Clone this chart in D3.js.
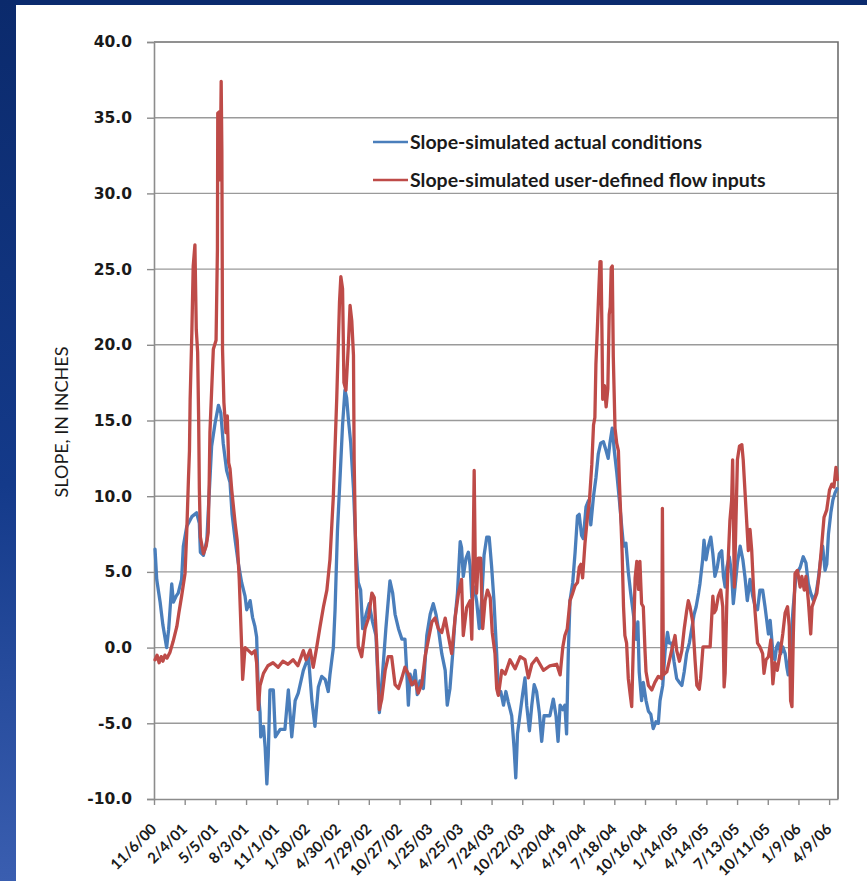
<!DOCTYPE html>
<html>
<head>
<meta charset="utf-8">
<script src="https://cdn.jsdelivr.net/npm/d3@7"></script>
<style>
  html, body { margin: 0; padding: 0; background: #0b2b6e; }
  svg { display: block; }
</style>
</head>
<body>
<svg id="chart" width="867" height="881"></svg>
<script>
// Dates are Excel serial day numbers (1 = 1/1/1900); slope values in inches.
const blueSerial = [
  36839,36844,36854,36862,36873,36879,36883,36888,36893,36901,36907,36917,36922,36932,36947,36961,36969,36972,36981,36991,
  36995,37005,37015,37025,37032,37039,37049,37059,37065,37074,37083,37093,37103,37108,37118,37125,37132,37137,37142,37147,
  37149,37157,37162,37167,37171,37176,37186,37192,37206,37220,37230,37240,37250,37259,37274,37289,37299,37308,37318,37328,
  37338,37347,37352,37362,37367,37374,37382,37389,37396,37401,37406,37413,37421,37428,37435,37442,37448,37458,37467,37477,
  37487,37497,37507,37516,37523,37528,37536,37543,37553,37563,37572,37577,37582,37587,37595,37602,37608,37616,37626,37636,
  37646,37655,37663,37670,37680,37690,37696,37704,37712,37719,37726,37734,37738,37743,37751,37758,37763,37768,37775,37782,
  37790,37797,37804,37812,37819,37826,37833,37841,37846,37853,37861,37868,37875,37885,37892,37897,37902,37910,37917,37924,
  37929,37937,37944,37951,37958,37966,37973,37980,37988,37997,38007,38015,38021,38027,38035,38041,38046,38051,38056,38064,
  38071,38078,38083,38090,38095,38103,38110,38117,38125,38132,38139,38146,38154,38162,38168,38173,38180,38186,38193,38201,
  38208,38213,38220,38227,38234,38242,38250,38255,38259,38266,38271,38279,38286,38293,38300,38308,38315,38320,38328,38335,
  38342,38347,38354,38361,38369,38377,38384,38391,38398,38406,38413,38420,38426,38433,38437,38445,38449,38455,38462,38469,
  38475,38481,38488,38494,38501,38506,38511,38516,38523,38530,38535,38540,38547,38555,38563,38569,38576,38584,38592,38599,
  38606,38613,38621,38628,38633,38638,38643,38648,38652,38657,38662,38667,38674,38680,38687,38692,38696,38701,38710,38719,
  38731,38740,38748,38755,38762,38770,38778,38784,38791,38797,38804,38809,38814,38821,38827,38833,38839
];
const blueSlope = [
  6.5,4.5,3.0,1.5,0.0,1.2,2.5,4.2,3.0,3.4,3.6,4.5,6.7,8.0,8.65,8.9,8.2,6.3,6.1,7.1,
  8.9,13.3,14.8,16.0,15.5,13.5,11.7,10.9,8.8,7.1,5.6,4.3,3.4,2.5,3.1,2.0,1.4,0.7,-3.0,-4.3,
  -5.9,-5.2,-6.6,-9.0,-7.2,-2.8,-2.8,-5.9,-5.4,-5.4,-2.8,-5.9,-3.5,-3.0,-1.5,-0.6,-3.5,-5.2,-2.6,-1.9,
  -2.1,-2.9,-1.8,0.0,2.5,7.7,11.4,14.7,17.0,16.5,15.1,13.5,10.5,6.6,4.3,3.8,1.25,2.2,2.9,1.7,
  0.8,-4.3,-1.5,1.25,3.1,4.4,3.6,2.2,1.25,0.56,0.56,-1.5,-3.8,-1.75,-2.45,-1.5,-3.1,-2.2,-2.7,0.8,
  2.2,2.9,2.2,1.25,-0.4,-1.5,-3.8,-2.7,-0.4,1.95,3.6,7.0,6.6,4.7,5.9,6.3,5.4,3.3,4.0,3.1,
  1.25,3.1,6.1,7.3,7.3,5.4,3.1,-0.4,-3.1,-2.9,-3.8,-2.9,-3.6,-4.5,-6.6,-8.6,-5.7,-4.3,-3.1,-2.0,
  -3.8,-5.5,-3.8,-2.45,-2.9,-4.3,-6.2,-4.5,-4.5,-4.5,-3.4,-4.5,-6.2,-3.8,-4.1,-3.8,-5.7,-0.4,3.1,4.3,
  6.3,8.7,8.8,7.4,7.2,9.3,9.7,8.1,10.0,11.2,12.8,13.5,13.6,13.0,12.5,13.5,14.5,13.0,11.6,9.7,
  7.9,6.7,6.9,5.0,3.6,2.2,0.55,1.7,-1.6,-3.5,-2.3,-3.5,-4.2,-4.4,-5.35,-4.9,-5.0,-3.5,-2.5,-0.2,
  1.0,0.3,0.3,-0.9,-2.05,-2.3,-2.5,-1.6,-0.4,0.3,1.25,2.2,2.7,3.6,4.2,5.8,7.1,5.8,6.7,7.3,
  6.2,4.7,5.3,6.2,6.4,4.7,4.0,5.3,6.0,4.9,2.9,4.0,5.6,6.7,5.8,4.7,3.1,4.5,3.4,2.7,
  2.5,3.8,3.8,2.7,1.8,0.9,1.8,0.5,-0.6,-0.8,0.05,0.3,-0.4,0.05,-0.4,-1.3,-1.8,-0.5,2.5,4.8,
  5.3,6.0,5.6,4.2,3.6,3.1,3.6,4.5,5.8,6.7,5.1,5.5,7.5,8.9,9.75,10.2,10.5
];

const redSerial = [
  36839,36845,36851,36857,36862,36868,36874,36883,36892,36903,36909,36917,36927,36932,36937,36940,36942,36947,36951,36956,
  36960,36964,36967,36969,36972,36981,36989,36995,36998,37000,37010,37018,37022,37023,37028,37030,37033,37035,37037,37041,
  37047,37051,37055,37059,37064,37074,37080,37086,37093,37096,37103,37113,37123,37132,37137,37142,37147,37157,37170,37185,
  37200,37214,37229,37244,37258,37274,37282,37294,37303,37313,37323,37333,37343,37352,37362,37372,37380,37384,37389,37393,
  37399,37406,37411,37416,37421,37423,37428,37435,37445,37455,37465,37475,37482,37489,37497,37504,37514,37523,37533,37543,
  37553,37563,37572,37582,37592,37602,37611,37621,37631,37641,37651,37660,37670,37680,37690,37699,37709,37719,37729,37738,
  37743,37753,37763,37768,37771,37775,37778,37782,37787,37794,37800,37807,37814,37822,37828,37836,37841,37846,37856,37866,
  37880,37895,37910,37924,37934,37944,37958,37978,37997,38017,38027,38035,38041,38048,38056,38064,38071,38078,38083,38088,
  38093,38100,38107,38113,38120,38125,38129,38132,38137,38141,38144,38147,38150,38152,38157,38162,38167,38171,38174,38177,
  38180,38183,38188,38193,38198,38201,38205,38209,38213,38217,38222,38227,38232,38237,38242,38247,38252,38257,38261,38266,
  38271,38276,38279,38286,38296,38305,38315,38325,38327,38330,38340,38350,38359,38364,38369,38377,38384,38391,38398,38403,
  38408,38416,38423,38428,38435,38439,38446,38467,38475,38479,38484,38491,38498,38504,38508,38511,38516,38520,38525,38530,
  38533,38538,38543,38547,38553,38560,38564,38569,38574,38579,38584,38589,38594,38599,38606,38613,38621,38625,38631,38638,
  38645,38651,38657,38664,38672,38680,38687,38694,38699,38703,38707,38711,38716,38723,38731,38736,38743,38748,38755,38762,
  38766,38772,38780,38787,38794,38801,38809,38817,38824,38830,38836,38840
];
const redSlope = [
  -0.8,-0.5,-1.0,-0.6,-0.9,-0.5,-0.7,-0.3,0.4,1.4,2.3,3.4,4.9,7.6,11.1,13.0,16.4,20.8,25.2,26.6,
  21.0,19.5,15.0,10.5,7.3,6.2,6.7,7.6,11.1,14.2,19.7,20.3,26.3,35.3,35.4,30.9,37.4,32.9,19.7,16.2,
  14.2,15.3,12.2,11.8,10.4,8.2,7.1,4.5,0.1,-2.1,0.0,-0.2,-0.4,-0.2,-1.0,-4.1,-2.5,-1.7,-1.2,-1.0,
  -1.3,-0.9,-1.1,-0.8,-1.2,-0.2,-0.8,-0.15,-1.3,0.0,1.4,2.7,3.8,5.8,10.0,16.5,22.8,24.5,23.7,17.5,
  17.0,20.0,22.6,21.6,19.3,12.4,5.4,0.1,-0.6,1.25,1.95,3.6,3.3,0.33,-4.1,-3.4,-1.5,-0.6,-0.6,-2.45,
  -2.7,-2.0,-1.3,-1.75,-2.45,-2.2,-3.0,-2.45,-0.6,0.56,1.7,1.95,1.25,1.0,1.95,0.8,-0.4,1.95,3.6,4.5,
  0.8,2.65,3.1,0.56,4.3,11.7,5.9,3.6,5.9,5.9,1.25,3.1,3.8,3.3,1.0,-0.4,-2.7,-3.15,-1.5,-1.75,
  -0.8,-1.4,-0.6,-0.8,-2.0,-1.1,-0.7,-1.5,-1.2,-1.1,-1.8,0.05,0.8,1.25,3.1,3.6,4.1,4.3,5.3,5.5,
  4.6,6.9,8.6,9.7,12.1,14.7,15.2,18.7,21.5,23.9,25.5,25.5,20.4,16.4,17.3,15.9,17.1,22.0,22.5,25.1,
  25.2,19.2,14.5,13.5,13.0,10.9,8.6,6.2,2.7,0.8,0.3,-2.05,-3.0,-3.9,0.3,4.6,5.7,3.85,5.7,2.9,
  2.7,-0.2,-1.6,-2.5,-2.8,-2.3,-1.9,-2.05,9.2,-1.8,-1.6,-0.6,0.3,0.8,-0.2,-0.9,-0.2,1.25,2.4,3.1,
  2.7,1.7,-0.9,-2.5,-2.75,-2.05,0.05,0.05,3.4,2.3,2.5,3.4,3.8,2.7,-2.6,-1.7,3.1,5.8,8.4,9.7,
  12.4,4.0,8.6,12.4,13.3,13.4,12.4,10.4,8.4,6.4,7.8,6.4,4.0,2.3,0.3,0.05,-0.4,-1.7,-0.8,-0.6,
  0.5,-2.4,-1.0,-1.5,-0.4,0.9,2.3,2.7,1.4,-3.5,-3.9,0.9,4.9,5.1,4.0,4.7,3.8,4.7,3.1,0.9,
  2.7,3.1,3.6,4.9,6.7,8.6,9.1,10.4,10.8,10.6,11.9,11.1
];

const seriesNames = [
  "Slope-simulated actual conditions",
  "Slope-simulated user-defined flow inputs"
];
const seriesColors = ["#4a7ebb", "#be4b48"];
const dateTickLabels = [
  "11/6/00","2/4/01","5/5/01","8/3/01","11/1/01","1/30/02","4/30/02","7/29/02",
  "10/27/02","1/25/03","4/25/03","7/24/03","10/22/03","1/20/04","4/19/04","7/18/04",
  "10/16/04","1/14/05","4/14/05","7/13/05","10/11/05","1/9/06","4/9/06"
];
const slopeTicks = [-10, -5, 0, 5, 10, 15, 20, 25, 30, 35, 40];
const axisTitle = "SLOPE, IN INCHES";
const axisStartSerial = 36836;   // 11/6/00
const axisEndSerial = 38842;     // 5/4/06

// ---- helpers ----
const EXCEL_EPOCH = Date.UTC(1899, 11, 30);
const fromSerial = s => new Date(EXCEL_EPOCH + s * 864e5);
const parseLabel = d3.utcParse("%m/%d/%y");

const W = 867, H = 881;
const plot = { left: 154, right: 838, top: 42, bottom: 799 };

const svg = d3.select("#chart");

// slide background
const defs = svg.append("defs");
const sideGrad = defs.append("linearGradient")
  .attr("id", "sideGrad").attr("x1", 0).attr("y1", 0).attr("x2", 0).attr("y2", 1);
sideGrad.append("stop").attr("offset", "0%").attr("stop-color", "#0b2a6c");
sideGrad.append("stop").attr("offset", "55%").attr("stop-color", "#143a8a");
sideGrad.append("stop").attr("offset", "100%").attr("stop-color", "#3a5eb0");
svg.append("rect").attr("width", W).attr("height", H).attr("fill", "#0b2b6e");
svg.append("rect").attr("x", 0).attr("y", 0).attr("width", 16).attr("height", H)
  .attr("fill", "url(#sideGrad)");
svg.append("rect").attr("x", 16).attr("y", 5).attr("width", W - 16).attr("height", H - 5)
  .attr("fill", "#ffffff");

// scales
const x = d3.scaleUtc()
  .domain([fromSerial(axisStartSerial), fromSerial(axisEndSerial)])
  .range([plot.left, plot.right]);
const y = d3.scaleLinear().domain([-10, 40]).range([plot.bottom, plot.top]);

// horizontal gridlines
svg.append("g")
  .selectAll("line")
  .data(slopeTicks.filter(v => v > -10 && v < 40))
  .join("line")
  .attr("x1", plot.left).attr("x2", plot.right)
  .attr("y1", d => y(d)).attr("y2", d => y(d))
  .attr("stroke", "#9a9a9a").attr("stroke-width", 1.4);

// plot frame (top and right)
svg.append("path")
  .attr("d", `M${plot.left},${y(40)}H${plot.right}V${plot.bottom}`)
  .attr("fill", "none").attr("stroke", "#6e6e6e").attr("stroke-width", 1.6);

// y axis
const yAxis = svg.append("g")
  .attr("transform", `translate(${plot.left},0)`)
  .call(d3.axisLeft(y).tickValues(slopeTicks).tickSize(7).tickPadding(15)
    .tickFormat(d => d.toFixed(1)));
yAxis.select(".domain").attr("stroke", "#8c8c8c").attr("stroke-width", 1.6);
yAxis.selectAll(".tick line").attr("stroke", "#8c8c8c").attr("stroke-width", 1.4);
yAxis.selectAll(".tick text")
  .attr("fill", "#1a1a1a")
  .style("font-family", "'DejaVu Sans', Verdana, sans-serif")
  .style("font-weight", "bold")
  .style("font-size", "15.5px");

// x axis
const tickDates = dateTickLabels.map(parseLabel);
const xAxis = svg.append("g")
  .attr("transform", `translate(0,${plot.bottom})`)
  .call(d3.axisBottom(x).tickValues(tickDates).tickSize(6).tickSizeOuter(0)
    .tickFormat((d, i) => dateTickLabels[i]));
xAxis.select(".domain").attr("stroke", "#8c8c8c").attr("stroke-width", 1.6);
xAxis.selectAll(".tick line").attr("stroke", "#8c8c8c").attr("stroke-width", 1.4);
xAxis.selectAll(".tick text")
  .attr("fill", "#1a1a1a")
  .attr("text-anchor", "end")
  .attr("dy", 0).attr("y", 0)
  .attr("transform", "translate(3,31) rotate(-45)")
  .style("font-family", "Lato, 'Open Sans', sans-serif")
  .style("font-weight", "bold")
  .style("font-size", "15px");

// y axis title
svg.append("text")
  .attr("transform", "translate(68,422) rotate(-90)")
  .attr("text-anchor", "middle")
  .attr("fill", "#1a1a1a")
  .style("font-family", "Lato, 'Open Sans', sans-serif")
  .style("font-size", "18px")
  .text(axisTitle);

// series
const series = [
  { name: seriesNames[0], color: seriesColors[0],
    points: blueSerial.map((s, i) => ({ date: fromSerial(s), value: blueSlope[i] })) },
  { name: seriesNames[1], color: seriesColors[1],
    points: redSerial.map((s, i) => ({ date: fromSerial(s), value: redSlope[i] })) }
];

const line = d3.line().x(d => x(d.date)).y(d => y(d.value));

svg.append("g")
  .selectAll("path")
  .data(series)
  .join("path")
  .attr("d", d => line(d.points))
  .attr("fill", "none")
  .attr("stroke", d => d.color)
  .attr("stroke-width", 3.3)
  .attr("stroke-linejoin", "round")
  .attr("stroke-linecap", "round");

// legend
const legend = svg.append("g").attr("transform", "translate(373,142)");
const items = legend.selectAll("g").data(series).join("g")
  .attr("transform", (d, i) => `translate(0,${i * 38})`);
items.append("line")
  .attr("x1", 0).attr("x2", 35).attr("y1", 0).attr("y2", 0)
  .attr("stroke", d => d.color).attr("stroke-width", 2.5);
items.append("text")
  .attr("x", 37).attr("y", 0).attr("dy", "0.35em")
  .attr("fill", "#1a1a1a")
  .style("font-family", "Lato, 'Open Sans', sans-serif")
  .style("font-weight", "bold")
  .style("font-size", "19.5px")
  .text(d => d.name);
</script>
</body>
</html>
